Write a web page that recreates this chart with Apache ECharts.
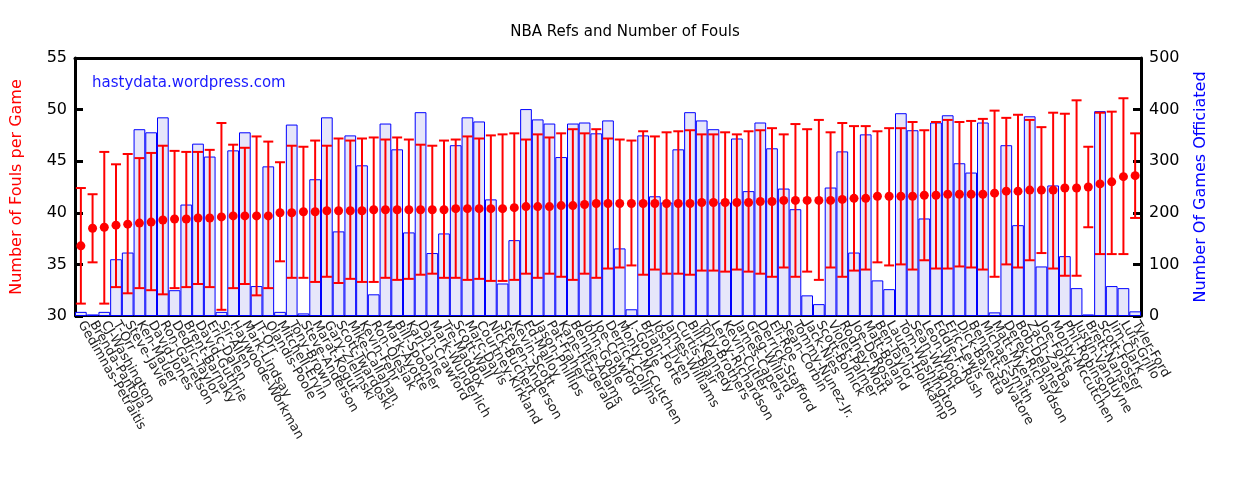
<!DOCTYPE html>
<html><head><meta charset="utf-8">
<script src="https://cdn.jsdelivr.net/npm/echarts@6/dist/echarts.min.js"></script>
<style>html,body{margin:0;padding:0;background:#fff}#c{width:1250px;height:500px}</style>
</head><body><div id="c"></div>
<script>
const refs = ["Gedimnas-Petraitis","Brenda-Pantoja","CJ-Washington","T-Orr","Steve-Javie","Ken-Mauer","David-Jones","Ron-Garretson","Dedric-Taylor","Brent-Barnaky","David-Guthrie","Eric-Dalen","Sir-Allen","Haywoode-Workman","Mark-Lindsay","JT-Orr","Olandis-Poole","Mitchell-Ervin","Tony-Brown","Steve-Anderson","Marat-Kogut","Gary-Zielinski","Scott-Twardoski","Mike-Callahan","Kevin-Fehr","Ron-Olesiak","Mark-Ayotte","Bill-Spooner","Karl-Lane","Dan-Crawford","Mark-Wunderlich","Tre-Maddox","Scott-Wall","Marc-Davis","Courtney-Kirkland","Nick-Buchert","Steven-Anderson","Kevin-Scott","Ed-Malloy","Jason-Phillips","Pat-Fraher","Kane-Fitzgerald","Bennie-Adams","John-Goble","Joe-Crawford","Derrick-Collins","Monty-McCutchen","J.-Goble","Brian-Forte","Josh-Tiven","James-Williams","Curtis-Blair","Bill-Kennedy","Tony-Brothers","Leroy-Richardson","Kevin-Cutler","James-Capers","Greg-Willard","Derrick-Stafford","Eli-Roe","Sean-Corbin","Tommy-Nunez-Jr.","Jack-Nies","Scott-Bolnick","Violet-Palmer","Rodney-Mott","Joe-DeRosa","Matt-Boland","Ben-Taylor","Lauren-Holtkamp","Tom-Washington","Sean-Wright","Leon-Wood","Eddie-F.-Rush","Eric-Lewis","Dick-Bavetta","Bennett-Salvatore","Michael-Smith","Matt-Myers","Derek-Richardson","Bob-Delaney","Zach-Zarba","Joe-Forte","Monty-Mccutchen","Phil-Robinson","Justin-Vanduyne","Brett-Nansel","Scott-Foster","Jim-Clark","Luis-Grillo","Tyler-Ford"];
const foulsMean = [36.8,38.5,38.6,38.8,38.9,39.0,39.1,39.3,39.4,39.4,39.5,39.5,39.6,39.7,39.7,39.7,39.7,40.0,40.0,40.1,40.1,40.2,40.2,40.2,40.2,40.3,40.3,40.3,40.3,40.3,
40.3,40.3,40.4,40.4,40.4,40.4,40.4,40.5,40.6,40.6,40.6,40.7,40.7,40.8,40.9,40.9,40.9,40.9,40.9,40.9,40.9,40.9,40.9,41.0,41.0,41.0,41.0,41.0,41.1,41.1,
41.2,41.2,41.2,41.2,41.2,41.3,41.4,41.4,41.6,41.6,41.6,41.6,41.7,41.7,41.8,41.8,41.8,41.8,41.9,42.1,42.1,42.2,42.2,42.2,42.4,42.4,42.5,42.8,43.0,43.5,43.6];
const foulsHigh = [42.4,41.8,45.9,44.7,45.7,45.3,45.8,46.5,46.0,45.9,45.9,46.1,48.7,46.6,46.3,47.4,46.9,44.9,46.5,46.4,47.0,46.5,47.2,47.0,47.2,47.3,47.1,47.3,47.1,46.6,
46.5,47.0,47.1,47.4,47.2,47.5,47.6,47.7,47.1,47.6,47.3,47.7,48.1,47.7,48.1,47.2,47.1,47.0,47.9,47.4,47.8,47.9,48.0,47.6,47.6,47.8,47.6,47.9,48.0,48.2,
47.6,48.6,48.1,49.0,47.8,48.7,48.4,48.4,47.9,48.2,48.2,48.8,48.0,48.8,49.0,48.8,48.9,49.1,49.9,49.2,49.5,49.0,48.3,49.7,49.6,50.9,46.4,49.7,49.8,51.1,47.7];
const foulsLow = [31.2,35.2,31.2,32.8,32.2,32.7,32.5,32.1,32.7,32.8,33.1,32.8,30.6,32.7,33.1,32.0,32.7,35.3,33.7,33.7,33.3,33.8,33.2,33.6,33.3,33.3,33.7,33.5,33.6,34.0,
34.1,33.7,33.7,33.5,33.6,33.4,33.4,33.5,34.1,33.7,34.1,33.8,33.5,34.1,33.7,34.6,34.7,34.9,34.0,34.5,34.1,34.1,34.0,34.4,34.4,34.3,34.5,34.3,34.1,33.8,
34.7,33.8,34.3,33.5,34.7,33.8,34.4,34.5,35.2,34.9,35.0,34.5,35.4,34.6,34.6,34.8,34.7,34.5,33.8,35.0,34.7,35.4,36.1,34.6,33.9,33.9,38.6,36.0,36.0,36.0,39.5];
const gamesOfficiated = [8,3,8,110,123,362,356,385,50,216,334,309,8,321,356,58,290,8,371,5,265,385,164,350,292,42,373,323,162,395,122,
160,331,385,377,226,63,147,401,381,373,308,373,375,354,379,131,13,350,232,220,323,395,379,362,220,344,242,375,325,
247,207,40,23,249,319,123,352,69,52,393,360,189,375,389,296,278,375,7,331,176,387,96,253,116,54,3,397,58,54,9];

const F = 'DejaVu Sans';
const chart = echarts.init(document.getElementById('c'));
const errData = refs.map((r,i)=>[i,foulsLow[i],foulsHigh[i]]);
chart.setOption({
  animation:false,
  title:{text:'NBA Refs and Number of Fouls',left:'center',top:20,textStyle:{fontFamily:F,fontSize:15,fontWeight:'normal',color:'#000'}},
  grid:{left:75,right:109,top:58,bottom:184},
  graphic:[{type:'text',left:92,top:76,style:{text:'hastydata.wordpress.com',fill:'#1a1aff',font:'15px "DejaVu Sans"'}}],
  xAxis:[
    {type:'category',data:refs,boundaryGap:true,
     axisLine:{lineStyle:{color:'#000',width:2}},
     axisTick:{inside:true,length:7,alignWithLabel:true,interval:0,lineStyle:{width:3,color:'#000'}},
     axisLabel:{interval:0,rotate:-60,fontFamily:F,fontSize:13,color:'#222',margin:6}},
    {type:'category',data:refs,position:'top',boundaryGap:true,
     axisLine:{lineStyle:{color:'#000',width:3}},
     axisTick:{inside:true,length:7,alignWithLabel:true,interval:0,lineStyle:{width:3,color:'#000'}},
     axisLabel:{show:false}}
  ],
  yAxis:[
    {type:'value',min:30,max:55,interval:5,name:'Number of Fouls per Game',nameLocation:'middle',nameGap:50,
     nameTextStyle:{color:'#ff0000',fontFamily:F,fontSize:16},
     axisLine:{show:true,lineStyle:{color:'#000',width:3}},
     axisTick:{show:true,inside:true,length:8,lineStyle:{width:3,color:'#000'}},
     axisLabel:{fontFamily:F,fontSize:16,color:'#000'},splitLine:{show:false}},
    {type:'value',min:0,max:500,interval:100,name:'Number Of Games Officiated',nameLocation:'middle',nameGap:52,
     nameTextStyle:{color:'#0000ff',fontFamily:F,fontSize:16},
     axisLine:{show:true,lineStyle:{color:'#000',width:3}},
     axisTick:{show:true,inside:true,length:8,lineStyle:{width:3,color:'#000'}},
     axisLabel:{fontFamily:F,fontSize:16,color:'#000'},splitLine:{show:false}}
  ],
  series:[
    {type:'bar',yAxisIndex:1,data:gamesOfficiated,barCategoryGap:'0%',z:1,
     itemStyle:{color:'#e6e6fa',borderColor:'#0000ff',borderWidth:1}},
    {type:'custom',z:3,data:errData,
     renderItem:function(params,api){
       const i=api.value(0);
       const lo=api.coord([i,api.value(1)]);
       const hi=api.coord([i,api.value(2)]);
       const w=5;
       const st={stroke:'#ff0000',lineWidth:2};
       return {type:'group',children:[
         {type:'line',shape:{x1:lo[0],y1:lo[1],x2:hi[0],y2:hi[1]},style:st},
         {type:'line',shape:{x1:lo[0]-w,y1:lo[1],x2:lo[0]+w,y2:lo[1]},style:st},
         {type:'line',shape:{x1:hi[0]-w,y1:hi[1],x2:hi[0]+w,y2:hi[1]},style:st}
       ]};
     }},
    {type:'scatter',z:4,data:foulsMean,symbolSize:9,itemStyle:{color:'#ff0000',opacity:1}}
  ]
});
</script></body></html>
